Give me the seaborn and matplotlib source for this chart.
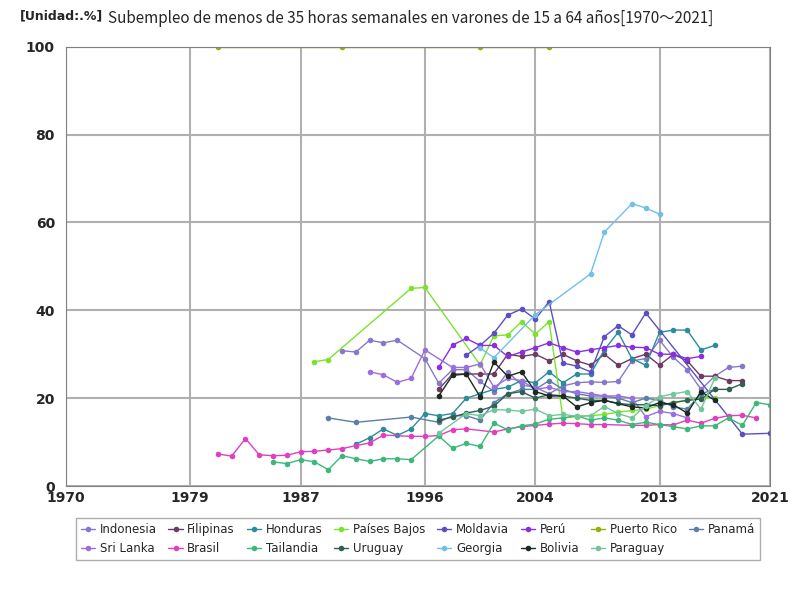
import matplotlib
matplotlib.use("Agg")
import matplotlib.pyplot as plt
import seaborn as sns
import pandas as pd

# datos por país: (años, valores)
indonesia_y = [1990, 1991, 1992, 1993, 1994, 1996, 1997, 1998, 1999, 2000, 2001, 2002, 2003, 2004, 2005, 2006, 2007, 2008, 2009, 2010, 2011, 2012, 2013, 2014, 2015, 2016, 2017, 2018, 2019]
indonesia_v = [30.8, 30.5, 33.2, 32.6, 33.2, 29, 23.4, 26.5, 26.5, 23.8, 21.5, 26, 23, 22.5, 21, 22.8, 23.5, 23.7, 23.6, 23.8, 28.5, 29, 33.2, 29.3, 26.5, 22, 25, 27, 27.3]
filipinas_y = list(range(1997, 2020))
filipinas_v = [22, 25.5, 25.5, 25.5, 25.5, 30, 29.5, 30, 28.5, 30, 28.5, 27.5, 30, 27.5, 29, 30, 27.5, 30, 28.5, 25, 25, 24, 24]
honduras_y = list(range(1991, 2018))
honduras_v = [9.5, 11, 13, 11.5, 13, 16.5, 16, 16.5, 20, 21, 22, 22.5, 24, 23.5, 26, 23.5, 25.5, 25.5, 31, 35, 29, 27.5, 35, 35.5, 35.5, 31, 32]
paises_bajos_y = [1988, 1989, 1995, 1996, 2000, 2001, 2002, 2003, 2004, 2005, 2006, 2007, 2008, 2009, 2010, 2011, 2012, 2013, 2014, 2015, 2016, 2017]
paises_bajos_v = [28.3, 28.8, 45, 45.2, 27.6, 34.2, 34.4, 37.4, 34.6, 37.4, 15.5, 15.8, 16, 16.3, 16.8, 17.2, 17.5, 18.3, 19, 19.5, 20, 20]
moldavia_y = [1999, 2000, 2001, 2002, 2003, 2004, 2005, 2006, 2007, 2008, 2009, 2010, 2011, 2012, 2019, 2021]
moldavia_v = [29.8, 32, 34.8, 38.9, 40.3, 38, 42, 28, 27.3, 26, 34, 36.5, 34.4, 39.4, 11.8, 12]
peru_y = list(range(1997, 2017))
peru_v = [27, 32.1, 33.6, 32, 32, 29.5, 30.5, 31.5, 32.6, 31.5, 30.5, 31, 31.5, 32, 31.6, 31.5, 30, 30, 29, 29.5]
puerto_rico_y = [1981, 1990, 2000, 2005]
puerto_rico_v = [100, 100, 100, 100]
panama_y = [1989, 1991, 1995, 1997, 1998, 1999, 2000, 2001, 2002, 2003, 2004, 2005, 2006, 2007, 2008, 2009, 2010, 2011, 2012, 2013, 2014, 2015, 2016, 2017]
panama_v = [15.5, 14.5, 15.7, 14.5, 16, 16, 15, 19, 21, 22, 22, 24, 22, 21, 20.5, 20.5, 20, 19, 20, 19.5, 18, 17.5, 21, 22]
sri_lanka_y = [1992, 1993, 1994, 1995, 1996, 1998, 1999, 2000, 2001, 2002, 2003, 2004, 2005, 2006, 2007, 2008, 2009, 2010, 2011, 2012, 2013, 2014, 2015]
sri_lanka_v = [26, 25.3, 23.6, 24.5, 31, 27, 27, 27.8, 22.5, 24.5, 24, 22, 22.5, 21.5, 21.5, 21, 20.5, 20.5, 20, 15.8, 17, 16.5, 15.5]
brasil_y = [1981, 1982, 1983, 1984, 1985, 1986, 1987, 1988, 1989, 1990, 1991, 1992, 1993, 1995, 1996, 1997, 1998, 1999, 2001, 2002, 2003, 2004, 2005, 2006, 2007, 2008, 2009, 2011, 2012, 2013, 2014, 2015, 2016, 2017, 2018, 2019, 2020]
brasil_v = [7.3, 6.8, 10.8, 7.1, 6.9, 7, 7.8, 7.9, 8.2, 8.5, 9.2, 9.8, 11.6, 11.3, 11.3, 11.5, 12.8, 13, 12.3, 13, 13.5, 13.8, 14.1, 14.3, 14.2, 14, 14, 13.8, 13.8, 14, 13.9, 15, 14.3, 15.4, 16, 16.1, 15.5]
tailandia_y = [1985, 1986, 1987, 1988, 1989, 1990, 1991, 1992, 1993, 1994, 1995, 1997, 1998, 1999, 2000, 2001, 2002, 2003, 2004, 2005, 2006, 2007, 2008, 2009, 2010, 2011, 2012, 2013, 2014, 2015, 2016, 2017, 2018, 2019, 2020, 2021]
tailandia_v = [5.5, 5.1, 6, 5.5, 3.7, 6.9, 6.2, 5.6, 6.2, 6.2, 6, 11.4, 8.6, 9.7, 9, 14.3, 12.8, 13.7, 14.1, 15.2, 15.5, 16, 15, 15.5, 15, 14, 14.5, 14, 13.5, 13, 13.7, 13.7, 15.5, 13.8, 19, 18.5]
uruguay_y = list(range(1997, 2020))
uruguay_v = [15, 15.7, 16.6, 17.2, 18.2, 21, 21.5, 20, 20.8, 20.5, 20, 19.5, 19.5, 18.8, 18.5, 18.5, 18.3, 19, 19.5, 19.8, 22, 22, 23.3]
georgia_y = [2000, 2001, 2004, 2008, 2009, 2011, 2012, 2013]
georgia_v = [31.4, 29.2, 39, 48.3, 57.8, 64.3, 63.3, 61.9]
bolivia_y = [1997, 1998, 1999, 2000, 2001, 2002, 2003, 2004, 2005, 2006, 2007, 2008, 2009, 2011, 2012, 2013, 2014, 2015, 2016, 2017]
bolivia_v = [20.5, 25.2, 25.5, 20.3, 28.2, 25, 26, 21.5, 20.5, 20.5, 18, 19, 19.5, 18, 17.8, 19, 18.5, 16.6, 21.5, 19.5]
paraguay_y = [1997, 1999, 2000, 2001, 2002, 2003, 2004, 2005, 2006, 2007, 2008, 2009, 2010, 2011, 2012, 2013, 2014, 2015, 2016, 2017]
paraguay_v = [12, 16.5, 16, 17.4, 17.3, 17, 17.5, 16, 16.3, 15.9, 16, 18.1, 16.5, 15.5, 18.3, 20.3, 21, 21.5, 17.5, 24.5]

series = [
    ("Indonesia", indonesia_y, indonesia_v, "#8878cc"),
    ("Filipinas", filipinas_y, filipinas_v, "#6e3a60"),
    ("Honduras", honduras_y, honduras_v, "#2b8c9c"),
    ("Países Bajos", paises_bajos_y, paises_bajos_v, "#7be32c"),
    ("Moldavia", moldavia_y, moldavia_v, "#5b4fc2"),
    ("Perú", peru_y, peru_v, "#8a2fe0"),
    ("Puerto Rico", puerto_rico_y, puerto_rico_v, "#90b010"),
    ("Panamá", panama_y, panama_v, "#5a80a8"),
    ("Sri Lanka", sri_lanka_y, sri_lanka_v, "#9a70e0"),
    ("Brasil", brasil_y, brasil_v, "#e040c0"),
    ("Tailandia", tailandia_y, tailandia_v, "#3cb87a"),
    ("Uruguay", uruguay_y, uruguay_v, "#2f6052"),
    ("Georgia", georgia_y, georgia_v, "#70c0ea"),
    ("Bolivia", bolivia_y, bolivia_v, "#1a2a20"),
    ("Paraguay", paraguay_y, paraguay_v, "#72c69a"),
]

sns.set_style("white")
fig = plt.figure(figsize=(8, 6), dpi=100)
ax = fig.add_axes([0.0825, 0.19, 0.88, 0.732])

for name, yrs, vals, col in series:
    df = pd.DataFrame({"año": yrs, "valor": vals})
    sns.lineplot(data=df, x="año", y="valor", ax=ax, color=col, linewidth=1,
                 marker="o", markersize=4, markeredgewidth=0, label=name)

ax.set_xlim(1970, 2021)
ax.set_ylim(0, 100)
ax.set_xticks([1970, 1979, 1987, 1996, 2004, 2013, 2021])
ax.set_yticks([0, 20, 40, 60, 80, 100])
ax.tick_params(labelsize=10, length=0)
ax.tick_params(axis="y", pad=8)
for lab in ax.get_xticklabels() + ax.get_yticklabels():
    lab.set_fontweight("bold")
ax.grid(True, color="#b0b0b0", linewidth=1.5)
for s in ax.spines.values():
    s.set_color("#808080")
ax.set_xlabel("")
ax.set_ylabel("")

fig.text(0.025, 0.967, "[Unidad:.%]", fontsize=9, fontweight="bold")
fig.text(0.135, 0.962, "Subempleo de menos de 35 horas semanales en varones de 15 a 64 años[1970～2021]",
         fontsize=11, family=["Noto Sans CJK JP", "DejaVu Sans"])

# leyenda ordenada por filas (8 columnas)
handles, labels = ax.get_legend_handles_labels()
ncol = 8
order = []
for c in range(ncol):
    for r in range(2):
        i = r * ncol + c
        if i < len(handles):
            order.append(i)
ax.legend([handles[i] for i in order], [labels[i] for i in order],
          loc="upper center", bbox_to_anchor=(0.5, -0.06), ncol=ncol, fontsize=8.5,
          frameon=True, edgecolor="#999999", fancybox=False, handlelength=1.2,
          columnspacing=1.0, handletextpad=0.4)

fig.savefig("out.png")
